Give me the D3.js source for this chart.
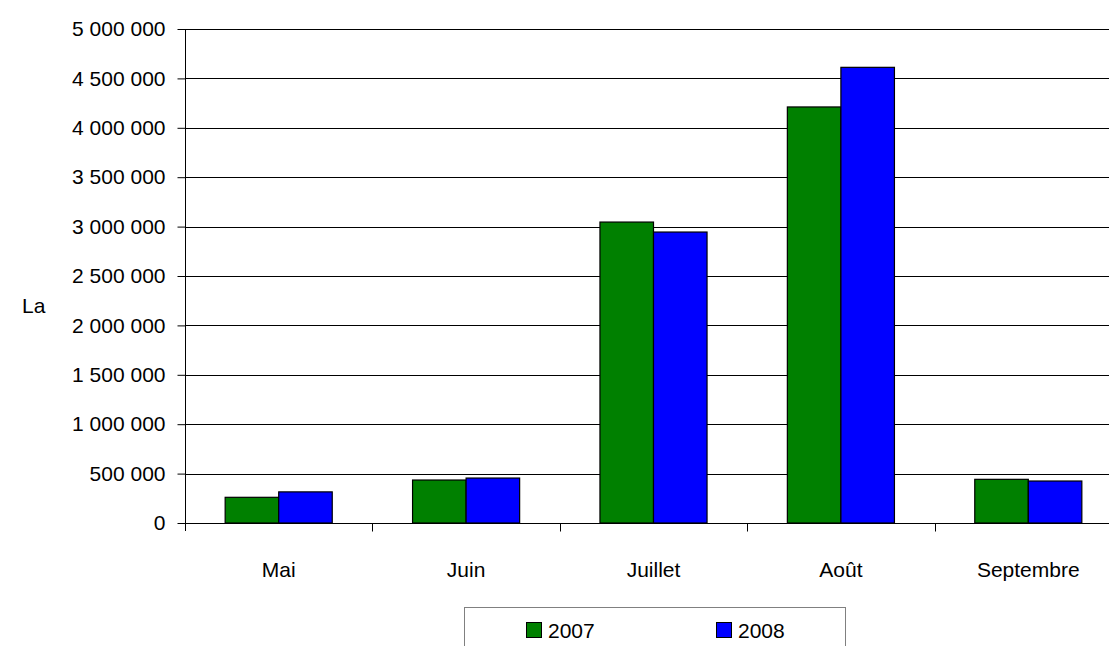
<!DOCTYPE html>
<html>
<head>
<meta charset="utf-8">
<script src="https://cdn.jsdelivr.net/npm/d3@7"></script>
<style>
  body { margin: 0; background: #fff; }
  svg { display: block; font-family: "Liberation Sans", sans-serif; }
</style>
</head>
<body>
<script>
const months = ["Mai", "Juin", "Juillet", "Août", "Septembre"];
const years = ["2007", "2008"];
const values2007 = [260000, 435000, 3046000, 4211000, 442000];
const values2008 = [315000, 455000, 2945000, 4612000, 425000];
const yTicks = [0, 500000, 1000000, 1500000, 2000000, 2500000, 3000000, 3500000, 4000000, 4500000, 5000000];
const colors = ["#008000", "#0000ff"];

const width = 1109, height = 646;
const plotLeft = 185, plotRight = 1122, plotTop = 29, plotBottom = 523;

const svg = d3.select("body").append("svg")
    .attr("width", width)
    .attr("height", height);

const x = d3.scaleBand().domain(months).range([plotLeft, plotRight]).padding(0);
const x1 = d3.scaleBand().domain(years).range([0, x.bandwidth()]).paddingOuter(0.75).paddingInner(0);
const y = d3.scaleLinear().domain([0, 5000000]).range([plotBottom, plotTop]);

const fmt = d => d3.format(",")(d).replace(/,/g, " ");

// gridlines
svg.append("g")
    .selectAll("line")
    .data(yTicks.slice(1))
    .join("line")
    .attr("x1", plotLeft).attr("x2", plotRight)
    .attr("y1", d => Math.round(y(d)) + 0.5).attr("y2", d => Math.round(y(d)) + 0.5)
    .attr("stroke", "#000");

// bars
const series = [values2007, values2008];
const group = svg.append("g")
    .selectAll("g")
    .data(months)
    .join("g")
    .attr("transform", d => `translate(${x(d)},0)`);

group.selectAll("rect")
    .data((m, i) => years.map((yr, k) => ({ yr, k, v: series[k][i] })))
    .join("rect")
    .attr("x", d => x1(d.yr))
    .attr("width", x1.bandwidth())
    .attr("y", d => y(d.v))
    .attr("height", d => y(0) - y(d.v))
    .attr("fill", d => colors[d.k])
    .attr("stroke", "#000")
    .attr("stroke-width", 1.2);

// y axis
const yAxis = d3.axisLeft(y).tickValues(yTicks).tickSize(8).tickPadding(12).tickFormat(fmt);
svg.append("g")
    .attr("transform", `translate(${plotLeft + 0.5},0)`)
    .call(yAxis)
    .call(g => g.select(".domain").attr("d", `M0,${plotTop}V${plotBottom + 8}`).attr("stroke", "#000"))
    .call(g => g.selectAll(".tick line").attr("stroke", "#000"))
    .call(g => g.selectAll(".tick text").attr("font-size", 21).attr("fill", "#000").attr("font-family", "Liberation Sans, sans-serif"));

// x axis
svg.append("g")
    .attr("transform", `translate(0,${plotBottom + 0.5})`)
    .call(g => g.append("line").attr("x1", plotLeft).attr("x2", plotRight).attr("stroke", "#000"))
    .selectAll("line.tk")
    .data(months.slice(1))
    .join("line")
    .attr("class", "tk")
    .attr("x1", d => Math.round(x(d)) + 0.5).attr("x2", d => Math.round(x(d)) + 0.5)
    .attr("y1", 0).attr("y2", 8)
    .attr("stroke", "#000");

svg.append("g")
    .selectAll("text")
    .data(months)
    .join("text")
    .attr("x", d => x(d) + x.bandwidth() / 2)
    .attr("y", 577)
    .attr("text-anchor", "middle")
    .attr("font-size", 21)
    .text(d => d);

// y axis title
svg.append("text")
    .attr("x", 22).attr("y", 313)
    .attr("font-size", 21)
    .text("La");

// legend
const legend = svg.append("g");
legend.append("rect")
    .attr("x", 464.5).attr("y", 607.5)
    .attr("width", 381).attr("height", 60)
    .attr("fill", "#fff").attr("stroke", "#808080");

const lx = [526, 716];
const item = legend.selectAll("g.item")
    .data(years)
    .join("g")
    .attr("class", "item")
    .attr("transform", (d, i) => `translate(${lx[i]},622)`);
item.append("rect")
    .attr("x", 0.5).attr("y", 0.5)
    .attr("width", 15).attr("height", 15)
    .attr("fill", (d, i) => colors[i])
    .attr("stroke", "#000");
item.append("text")
    .attr("x", 22).attr("y", 16)
    .attr("font-size", 21)
    .text(d => d);
</script>
</body>
</html>
